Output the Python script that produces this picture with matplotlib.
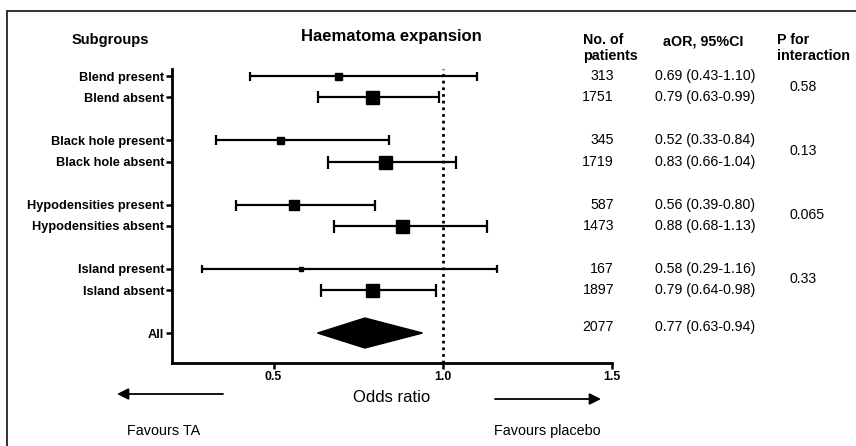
import matplotlib
matplotlib.use('Agg')
import matplotlib.pyplot as plt
from matplotlib import transforms
from matplotlib.patches import Polygon, Rectangle, FancyArrowPatch

plt.rcParams['font.family'] = ['Liberation Sans', 'DejaVu Sans']

# data
subgroups = ['Blend present', 'Blend absent',
             'Black hole present', 'Black hole absent',
             'Hypodensities present', 'Hypodensities absent',
             'Island present', 'Island absent']
odds = [0.69, 0.79, 0.52, 0.83, 0.56, 0.88, 0.58, 0.79]
ci_low = [0.43, 0.63, 0.33, 0.66, 0.39, 0.68, 0.29, 0.64]
ci_high = [1.10, 0.99, 0.84, 1.04, 0.80, 1.13, 1.16, 0.98]
n_patients = [313, 1751, 345, 1719, 587, 1473, 167, 1897]
p_interaction = ['0.58', '0.13', '0.065', '0.33']

all_label = 'All'
all_odds = 0.77
all_low = 0.63
all_high = 0.94
all_n = 2077

x_ticks = [0.5, 1.0, 1.5]

# layout / style
row_pos = [0, 1, 3, 4, 6, 7, 9, 10]
all_pos = 12
marker_px = [7, 13, 7, 13, 10, 13, 4, 13]
cap_px = [9, 12, 10, 13, 11, 13, 8, 13]

W, H = 856, 446
fig = plt.figure(figsize=(W / 100, H / 100), dpi=100)
ax = fig.add_axes([172 / W, 1 - 363 / H, (612 - 172) / W, (363 - 69) / H])

for i in range(len(subgroups)):
    y = row_pos[i]
    ax.errorbar(odds[i], y,
                xerr=[[odds[i] - ci_low[i]], [ci_high[i] - odds[i]]],
                fmt='s', color='black', ms=marker_px[i] * 0.72,
                elinewidth=1.6, capsize=cap_px[i] * 0.36, capthick=1.6)

d = 0.7
ax.add_patch(Polygon([(all_low, all_pos), (all_odds, all_pos - d),
                      (all_high, all_pos), (all_odds, all_pos + d)],
                     closed=True, color='black'))

ax.axvline(1.0, color='black', lw=2, linestyle=(0, (1, 1.4)))

ax.set_xlim(0.2, 1.5)
ax.set_ylim(13.4, -0.33)
ax.set_xticks(x_ticks)
ax.set_xticklabels(['%.1f' % t for t in x_ticks], fontweight='bold', fontsize=8.8)
ax.set_yticks(row_pos + [all_pos])
ax.set_yticklabels(subgroups + [all_label], fontweight='bold', fontsize=9.2)
ax.tick_params(axis='both', length=4, width=1.8, pad=1.5)
ax.spines['top'].set_visible(False)
ax.spines['right'].set_visible(False)
ax.spines['left'].set_linewidth(2)
ax.spines['bottom'].set_linewidth(2)

# table columns, x in figure fraction, y in row units
tr = transforms.blended_transform_factory(fig.transFigure, ax.transData)
for i in range(len(subgroups)):
    y = row_pos[i]
    fig.text(614 / W, y, str(n_patients[i]), transform=tr, ha='right',
             va='center', fontsize=10.2)
    fig.text(655 / W, y, '%.2f (%.2f-%.2f)' % (odds[i], ci_low[i], ci_high[i]),
             transform=tr, ha='left', va='center', fontsize=10.2)
for j, p in enumerate(p_interaction):
    y = (row_pos[2 * j] + row_pos[2 * j + 1]) / 2
    fig.text(790 / W, y, p, transform=tr, ha='left', va='center', fontsize=10.2)
fig.text(614 / W, all_pos - 0.3, str(all_n), transform=tr, ha='right',
         va='center', fontsize=10.2)
fig.text(655 / W, all_pos - 0.3, '%.2f (%.2f-%.2f)' % (all_odds, all_low, all_high),
         transform=tr, ha='left', va='center', fontsize=10.2)

# headers
fig.text(110 / W, 1 - 40 / H, 'Subgroups', ha='center', va='center',
         fontweight='bold', fontsize=10.5)
fig.text(391 / W, 1 - 37 / H, 'Haematoma expansion', ha='center', va='center',
         fontweight='bold', fontsize=12)
fig.text(583 / W, 1 - 33 / H, 'No. of\npatients', ha='left', va='top',
         fontweight='bold', fontsize=10.3, linespacing=1.15)
fig.text(703 / W, 1 - 41 / H, 'aOR, 95%CI', ha='center', va='center',
         fontweight='bold', fontsize=10.3)
fig.text(777 / W, 1 - 33 / H, 'P for\ninteraction', ha='left', va='top',
         fontweight='bold', fontsize=10.3, linespacing=1.15)

# bottom labels and arrows
fig.text(392 / W, 1 - 398 / H, 'Odds ratio', ha='center', va='center', fontsize=12)
fig.text(127 / W, 1 - 431 / H, 'Favours TA', ha='left', va='center', fontsize=10.4)
fig.text(494 / W, 1 - 431 / H, 'Favours placebo', ha='left', va='center', fontsize=10.4)
fig.add_artist(FancyArrowPatch((223 / W, 1 - 394 / H), (117 / W, 1 - 394 / H),
                               transform=fig.transFigure, arrowstyle='-|>',
                               mutation_scale=17, lw=1.3, color='black',
                               shrinkA=0, shrinkB=0))
fig.add_artist(FancyArrowPatch((495 / W, 1 - 399 / H), (601 / W, 1 - 399 / H),
                               transform=fig.transFigure, arrowstyle='-|>',
                               mutation_scale=17, lw=1.3, color='black',
                               shrinkA=0, shrinkB=0))

# outer frame, cut off on the right and bottom
fig.add_artist(Rectangle((7 / W, -0.1), 1.2, 1 - 11 / H + 0.1,
                         transform=fig.transFigure, fill=False,
                         edgecolor='#222222', lw=1.3, clip_on=False))

fig.savefig('out.png', dpi=100)
